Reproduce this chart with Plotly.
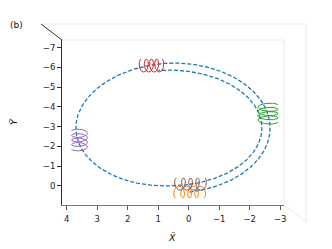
import numpy as np
import plotly.graph_objects as go

# ---- data ----
x_ticks = [4, 3, 2, 1, 0, -1, -2, -3]
y_ticks = [-7, -6, -5, -4, -3, -2, -1, 0, 1]

# guiding-centre orbit: [centre X, centre Y, semi-axis along X, semi-axis along Y]
orbit_first_turn = [0.515, -2.93, 3.185, 3.30]
orbit_second_turn = [0.65, -2.93, 3.05, 2.94]
orbit_start_X = -0.03    # starts at the orange coil (bottom)
orbit_end_X = 1.0        # second turn stops near the red coil (top)

helix_colors = ["#ff7f0e", "#2ca02c", "#d62728", "#9467bd", "#8c564b"]
helix_center_X = [-0.03, -2.60, 1.22, 3.58, -0.06]
helix_center_Y = [0.32, -3.66, -6.10, -2.32, -0.08]
helix_axis = ["X", "Y", "X", "Y", "X"]
helix_length = [0.92, 0.86, 0.675, 0.91, 0.92]
helix_along_amp = [0.115, 0.152, 0.105, 0.152, 0.115]
helix_perp_amp = [0.30, 0.33, 0.33, 0.26, 0.31]
helix_loop_side = [1, -1, -1, 1, -1]
helix_turns = [4, 4, 4, 4, 4]

# ---- build curves ----
p1 = np.array(orbit_first_turn)
p2 = np.array(orbit_second_turn)
s0 = np.arccos((orbit_start_X - p1[0]) / p1[2])
s1 = 4 * np.pi - np.arccos((orbit_end_X - p2[0]) / p2[2])
s = np.linspace(s0, s1, 900)
w = np.clip((s - 1.5 * np.pi) / np.pi, 0, 1)[:, None]
p = (1 - w) * p1 + w * p2
orbit_X = p[:, 0] + p[:, 2] * np.cos(s)
orbit_Y = p[:, 1] + p[:, 3] * np.sin(s)

fig = go.Figure()
fig.add_trace(go.Scatter(x=orbit_X, y=orbit_Y, mode="lines",
                         line=dict(color="#1f77b4", width=1.3, dash="4px,2px"),
                         hoverinfo="skip", showlegend=False))

for i in range(len(helix_colors)):
    n = helix_turns[i]
    t = np.linspace(0, 2 * np.pi * n, 600)
    along = helix_length[i] * (t / (2 * np.pi * n) - 0.5) - helix_along_amp[i] * np.sin(t)
    perp = helix_loop_side[i] * helix_perp_amp[i] * np.cos(t)
    if helix_axis[i] == "X":
        hx = helix_center_X[i] + along
        hy = helix_center_Y[i] + perp
    else:
        hx = helix_center_X[i] + perp
        hy = helix_center_Y[i] + along
    fig.add_trace(go.Scatter(x=hx, y=hy, mode="lines",
                             line=dict(color=helix_colors[i], width=1),
                             hoverinfo="skip", showlegend=False))

font = dict(family="DejaVu Sans", size=8.5, color="#222")
fig.update_xaxes(range=[4.154, -3.125], tickvals=x_ticks,
                 ticktext=[str(v).replace("-", "\u2212") for v in x_ticks],
                 showgrid=False, zeroline=False, showline=True, linecolor="#777",
                 linewidth=1, ticks="outside", ticklen=4, tickcolor="#555",
                 tickfont=font, ticklabelstandoff=2)
fig.update_yaxes(range=[0.98, -7.396], tickvals=y_ticks,
                 ticktext=[str(v).replace("-", "\u2212") for v in y_ticks],
                 showgrid=False, zeroline=False, showline=True, linecolor="#333",
                 linewidth=1, ticks="outside", ticklen=4, tickcolor="#333",
                 tickfont=font)

# page has an 8px body margin: figure sits at (8, 8) in the window
OFF = 8
W, H = 332 - OFF, 249 - OFF
L, T, R, B = 62 - OFF, 40 - OFF, 332 - 284, 249 - 205

# 3-D box frame (paper coordinates, from window pixel positions)
def px(xp):
    return (xp - 62) / 222.0
def py(yp):
    return (205 - yp) / 165.0

frame_light = [((41, 24), (306, 24)), ((306, 24), (306, 222)),
               ((62, 40), (284, 40)), ((284, 40), (284, 205)),
               ((284, 205), (306, 222))]
shapes = []
for (a, b) in frame_light:
    shapes.append(dict(type="line", xref="paper", yref="paper",
                       x0=px(a[0]), y0=py(a[1]), x1=px(b[0]), y1=py(b[1]),
                       line=dict(color="#ebebeb", width=1), layer="below"))
shapes.append(dict(type="line", xref="paper", yref="paper",
                   x0=px(41), y0=py(24), x1=px(62), y1=py(40),
                   line=dict(color="#333", width=1)))

annotations = [
    dict(text="(b)", x=px(8), y=py(25), xref="paper", yref="paper",
         xanchor="left", yanchor="middle", showarrow=False,
         font=dict(family="DejaVu Sans", size=9, color="#111")),
    dict(text="<i>X\u0303</i>", x=px(172), y=py(237), xref="paper", yref="paper",
         xanchor="center", yanchor="middle", showarrow=False,
         font=dict(family="DejaVu Sans", size=9.5, color="#111")),
    dict(text="<i>Y\u0303</i>", x=px(13), y=py(122), xref="paper", yref="paper",
         xanchor="center", yanchor="middle", showarrow=False, textangle=-90,
         font=dict(family="DejaVu Sans", size=9.5, color="#111")),
]

fig.update_layout(width=W, height=H,
                  margin=dict(l=L, r=R, t=T, b=B),
                  paper_bgcolor="white", plot_bgcolor="white",
                  shapes=shapes, annotations=annotations, showlegend=False)
fig.write_html("out.html")
